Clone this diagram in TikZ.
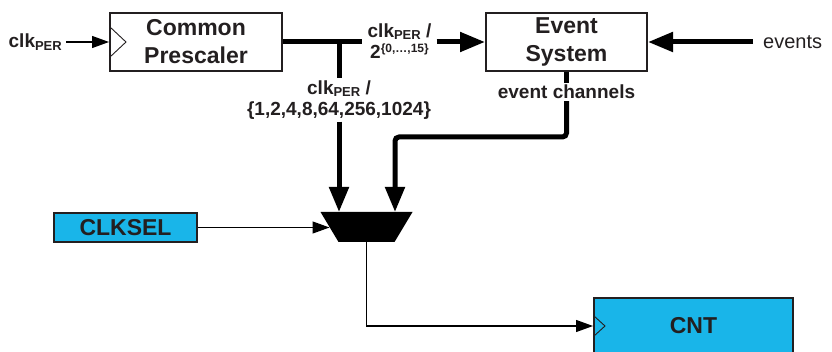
\documentclass[tikz,border=0pt]{standalone}
\usepackage{fontspec}
\setmainfont{Liberation Sans}
\usetikzlibrary{positioning, arrows.meta, calc}
\definecolor{selCyan}{HTML}{19B5E9}
\definecolor{inkDark}{HTML}{231F20}
\newcommand{\clkper}{clk\raisebox{-2.5pt}{\fontsize{13}{13}\selectfont PER}}
\newcommand{\smallsup}[1]{\raisebox{6pt}{\fontsize{12}{12}\selectfont #1}}

\begin{document}
\begin{tikzpicture}[
    x=1pt, y=-1pt,
    bigfont/.style={font={\fontsize{23}{28}\selectfont\bfseries}},
    lblfont/.style={font={\fontsize{19}{21}\selectfont\bfseries\lineskiplimit=-50pt}},
    block/.style={
        draw=inkDark, line width=2pt, align=center, text=inkDark,
        inner sep=0pt, bigfont
    },
    selblock/.style={block, fill=selCyan},
    clkmark/.style={path picture={
        \draw[line width=0.9pt, inkDark]
            ([yshift=#1pt]path picture bounding box.west)
            -- ([xshift=#1pt+1pt]path picture bounding box.west)
            -- ([yshift=-#1pt]path picture bounding box.west);}},
    sig/.style={lblfont, text=inkDark, align=center, fill=white, inner sep=2pt},
    bus/.style={line width=5pt},
    busarrow/.style={bus, -{Triangle[length=25pt, width=19pt]}},
    wire/.style={line width=1.2pt},
    wirearrow/.style={wire, -{Triangle[length=17pt, width=12pt]}},
]
\useasboundingbox (0,0) rectangle (832,352);

% ============================================
% Clock sources
% ============================================
\node[block, clkmark=15, minimum width=172pt, minimum height=58pt] (presc) at (196,42) {Common\\Prescaler};
\node[block, minimum width=161pt, minimum height=58pt] (evsys) at (566.5,42) {Event\\System};

\node[sig, fill=none, inner xsep=4pt, left=43pt of presc] (clkin) {\clkper};
\node[text=inkDark, font={\fontsize{20}{24}\selectfont}, inner xsep=10pt, right=105pt of evsys] (events) {events};

% ============================================
% Selection
% ============================================
\node[selblock, line width=1.5pt, minimum width=143pt, minimum height=29pt] (clksel) at (125.5,227.5) {CLKSEL};
\node[selblock, clkmark=10, minimum width=199pt, minimum height=56pt] (cnt) at (693.5,326) {CNT};

% clock select mux (drawn directly)
\coordinate (mux) at (366.5,227);
\coordinate (muxin) at (329.5,227);
\coordinate (muxout) at (366.5,242);
\fill (mux) ++(-46,-15) -- ++(92,0) -- ++(-18,30) -- ++(-56,0) -- cycle;

% labels sitting on the buses
\node[sig, inner xsep=5pt] (divlbl) at (399.5,41) {\clkper\ /\\2\smallsup{\{0,…,15\}}};
\node[sig] (brlbl) at (339,100) {\clkper\ /\\\{1,2,4,8,64,256,1024\}};
\node[sig] (evch) at (566.5,92) {event channels};

\coordinate (tap) at (339,42);
\coordinate (evbend) at (395,137);

% ============================================
% Connections
% ============================================
\draw[wirearrow] (clkin) -- (presc);
\draw[busarrow] (events) -- (evsys);

\draw[bus] (presc.east) -- (divlbl.west |- tap);
\draw[busarrow] (divlbl.east |- tap) -- (evsys.west);

\draw[bus] (tap) -- (brlbl.north);
\draw[busarrow] (brlbl.south) -- (brlbl.south |- 0,212);

\draw[bus] (evsys.south) -- (evch.north);
\draw[busarrow, rounded corners=4pt] (evch.south) |- (evbend) -- (evbend |- 0,212);

\draw[wirearrow] (clksel.east) -- (clksel.east -| muxin);
\draw[wirearrow] (muxout) |- (cnt.west);

\end{tikzpicture}
\end{document}
